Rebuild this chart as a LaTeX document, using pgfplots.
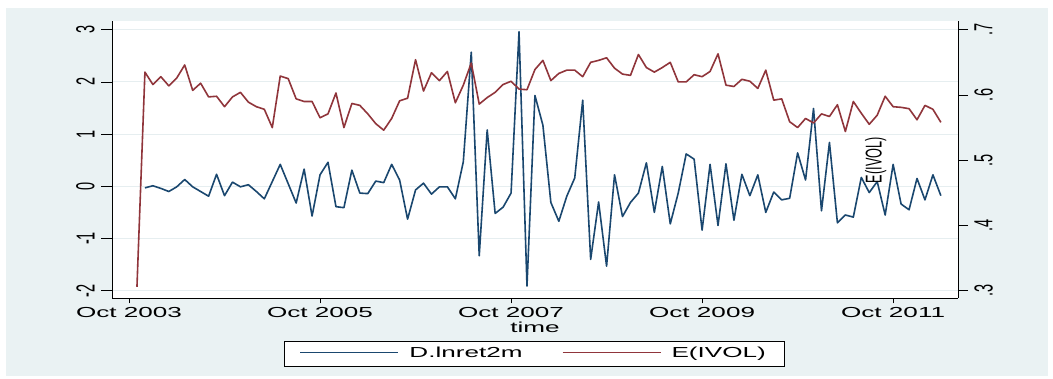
\documentclass[border=0pt]{standalone}
\usepackage{fontspec}
\setmainfont{Liberation Sans}[FakeStretch=1.8]
\newfontfamily\rotfont{Liberation Sans}
\usepackage{pgfplots}
\usepackage{pgfplotstable}
\pgfplotsset{compat=1.18}
\definecolor{bgc}{HTML}{EAF2F3}
\definecolor{gridc}{HTML}{E6EEF0}
\definecolor{sblue}{HTML}{1A476F}
\definecolor{sred}{HTML}{90353B}

\pgfplotstableread{
m v
2 -0.03
3 0.01
4 -0.04
5 -0.10
6 -0.01
7 0.13
8 -0.01
9 -0.10
10 -0.19
11 0.23
12 -0.18
13 0.08
14 -0.01
15 0.03
16 -0.10
17 -0.24
18 0.09
19 0.42
20 0.05
21 -0.32
22 0.33
23 -0.57
24 0.22
25 0.46
26 -0.39
27 -0.41
28 0.31
29 -0.13
30 -0.14
31 0.10
32 0.07
33 0.42
34 0.12
35 -0.63
36 -0.07
37 0.06
38 -0.15
39 -0.01
40 -0.01
41 -0.24
42 0.47
43 2.57
44 -1.33
45 1.08
46 -0.52
47 -0.40
48 -0.13
49 2.96
50 -1.91
51 1.74
52 1.17
53 -0.31
54 -0.67
55 -0.19
56 0.16
57 1.65
58 -1.40
59 -0.30
60 -1.53
61 0.22
62 -0.58
63 -0.31
64 -0.13
65 0.45
66 -0.50
67 0.38
68 -0.72
69 -0.13
70 0.62
71 0.52
72 -0.84
73 0.42
74 -0.75
75 0.43
76 -0.65
77 0.23
78 -0.18
79 0.22
80 -0.50
81 -0.11
82 -0.26
83 -0.23
84 0.64
85 0.12
86 1.49
87 -0.47
88 0.84
89 -0.70
90 -0.55
91 -0.59
92 0.17
93 -0.12
94 0.09
95 -0.55
96 0.42
97 -0.34
98 -0.45
99 0.15
100 -0.26
101 0.22
102 -0.18
}\dret

\pgfplotstableread{
m r
1 0.306
2 0.635
3 0.616
4 0.628
5 0.614
6 0.626
7 0.646
8 0.607
9 0.618
10 0.597
11 0.598
12 0.582
13 0.597
14 0.604
15 0.589
16 0.582
17 0.578
18 0.550
19 0.629
20 0.625
21 0.594
22 0.590
23 0.590
24 0.565
25 0.571
26 0.603
27 0.550
28 0.587
29 0.584
30 0.571
31 0.556
32 0.546
33 0.564
34 0.591
35 0.595
36 0.654
37 0.606
38 0.634
39 0.622
40 0.636
41 0.588
42 0.615
43 0.649
44 0.586
45 0.596
46 0.604
47 0.616
48 0.621
49 0.609
50 0.608
51 0.639
52 0.653
53 0.622
54 0.633
55 0.638
56 0.638
57 0.628
58 0.650
59 0.653
60 0.657
61 0.641
62 0.632
63 0.630
64 0.662
65 0.642
66 0.635
67 0.642
68 0.650
69 0.620
70 0.620
71 0.631
72 0.628
73 0.636
74 0.663
75 0.615
76 0.613
77 0.624
78 0.621
79 0.610
80 0.638
81 0.592
82 0.594
83 0.559
84 0.550
85 0.564
86 0.557
87 0.571
88 0.567
89 0.585
90 0.544
91 0.590
92 0.572
93 0.555
94 0.569
95 0.598
96 0.582
97 0.581
98 0.579
99 0.562
100 0.584
101 0.578
102 0.558
}\eivol

\pgfplotsset{
  myax/.style={
    at={(112pt,81pt)}, anchor=south west,
    width=846pt, height=277pt, scale only axis,
    xmin=-2.136, xmax=104.15,
    tick align=outside,
    axis line style={-, black, line width=0.8pt},
    tick style={black, line width=0.8pt},
    /pgf/number format/assume math mode=true,
  },
  rotlab/.style={font=\rotfont\fontsize{14.5}{17}\selectfont, xscale=1.8, rotate=90},
}

\begin{document}
\begin{tikzpicture}[font=\fontsize{14.5}{17}\selectfont]
\fill[white] (0,0) rectangle (1053pt,379pt);
\fill[bgc] (6pt,3pt) rectangle (1048pt,371pt);

% left axis with blue series
\begin{axis}[myax,
  axis background/.style={fill=white},
  hide x axis,
  axis y line*=left,
  ymin=-2.14, ymax=3.167,
  ytick={-2,-1,0,1,2,3},
  yticklabels={-2,-1,0,1,2,3},
  ymajorgrids, grid style={gridc, line width=1pt},
  major tick length=11pt,
  yticklabel style={rotlab, anchor=south},
]
\addplot[sblue, line width=1.6pt, line join=round] table[x=m, y=v] {\dret};
\end{axis}

% right axis with red series
\begin{axis}[myax,
  hide x axis,
  axis y line*=right,
  ymin=0.2888, ymax=0.71336,
  ytick={0.3,0.4,0.5,0.6,0.7},
  yticklabels={.3,.4,.5,.6,.7},
  major tick length=10pt,
  yticklabel style={rotlab, anchor=north},
]
\addplot[sred, line width=1.6pt, line join=round] table[x=m, y=r] {\eivol};
\node[font=\rotfont\fontsize{12.7}{15}\selectfont, xscale=1.8, rotate=90] at (axis cs:93.8,0.500) {E(IVOL)};
\end{axis}

% x axis and legend
\begin{axis}[myax,
  hide y axis,
  axis x line*=bottom,
  ymin=0, ymax=1,
  xtick={0,24,48,72,96},
  xticklabels={Oct 2003,Oct 2005,Oct 2007,Oct 2009,Oct 2011},
  major tick length=5.5pt,
  xlabel={time},
  xlabel style={yshift=2pt},
  legend columns=2,
  legend style={at={(0.499,-0.2)}, anchor=center, draw=black, line width=0.6pt,
    fill=white, inner xsep=16pt, inner ysep=4.5pt,
    /tikz/every even column/.append style={column sep=38pt},
    /tikz/every odd column/.append style={column sep=9pt}},
]
\addlegendimage{legend image code/.code={%
  \node[inner sep=0pt, anchor=west] at (0pt,0pt) {\textcolor{sblue}{\rule{98pt}{1.2pt}}};}}
\addlegendentry{D.lnret2m}
\addlegendimage{legend image code/.code={%
  \node[inner sep=0pt, anchor=west] at (0pt,0pt) {\textcolor{sred}{\rule{98pt}{1.2pt}}};}}
\addlegendentry{E(IVOL)}
\end{axis}
\end{tikzpicture}
\end{document}
